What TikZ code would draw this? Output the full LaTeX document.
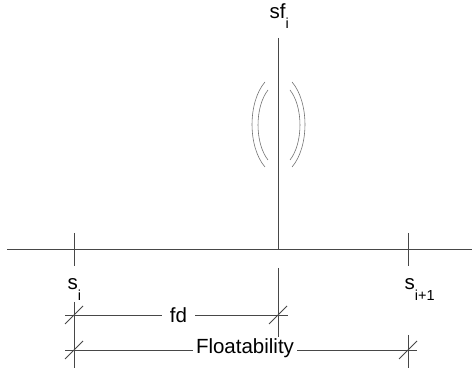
\documentclass[tikz,border=0pt]{standalone}
\usepackage{fontspec}
\setmainfont{Liberation Sans}
\newcommand{\lowsub}[1]{\raisebox{-10.5pt}{\fontsize{14.5}{14.5}\selectfont #1}}
\begin{document}
\begin{tikzpicture}[x=1pt,y=-1pt,
  ln/.style={line width=0.9pt, draw=black!72},
  arcln/.style={line width=0.6pt, draw=black!55},
  lbl/.style={inner sep=0pt, anchor=base west, font=\fontsize{20.5}{24}\selectfont},
  dimtxt/.style={inner ysep=0pt, font=\fontsize{20.5}{24}\selectfont, anchor=base}]
\useasboundingbox (0,0) rectangle (472,374);
% axis
\coordinate (axL) at (7,249);
\coordinate (axR) at (472,249);
\draw[ln] (axL) -- (axR);
% sf vertical
\coordinate (sfT) at (278,38);
\coordinate (sfB) at (278,249);
\draw[ln] (sfT) -- (sfB);
% ticks
\draw[ln] (74,233) -- (74,266);
\draw[ln] (408,233) -- (408,266);
% labels
\node[lbl] (sf) at (269.5,18.3) {sf\lowsub{i}};
\node[lbl] (si) at (67.5,290) {s\lowsub{i}};
\node[lbl] (si1) at (404.5,290) {s\lowsub{i+1}};
% arcs
\draw[arcln] (265,82) .. controls (247.7,102) and (247.7,147) .. (265,167);
\draw[arcln] (268,90) .. controls (254.7,107) and (254.7,143) .. (268,160);
\draw[arcln] (292,82) .. controls (309.3,102) and (309.3,147) .. (292,167);
\draw[arcln] (290,90) .. controls (303.3,107) and (303.3,143) .. (290,160);
% extension lines
\draw[ln] (74,302) -- (74,368);
\draw[ln] (278,268) -- (278,337);
\draw[ln] (408,335) -- (408,368);
% fd dimension
\coordinate (fdL) at (65,315);
\coordinate (fdR) at (288,315);
\node[dimtxt, inner xsep=8pt] (fd) at (178.5,323) {fd};
\draw[ln] (fdL) -- (fd.west |- fdL);
\draw[ln] (fd.east |- fdR) -- (fdR);
\draw[ln] (65,324) -- (83,306);
\draw[ln] (269,324) -- (287,306);
% Floatability dimension
\coordinate (flL) at (65,350);
\coordinate (flR) at (417,350);
\node[dimtxt, inner xsep=3pt] (fl) at (245,354) {Floatability};
\draw[ln] (flL) -- (fl.west |- flL);
\draw[ln] (fl.east |- flR) -- (flR);
\draw[ln] (65,359) -- (83,341);
\draw[ln] (399,359) -- (417,341);
\end{tikzpicture}
\end{document}
